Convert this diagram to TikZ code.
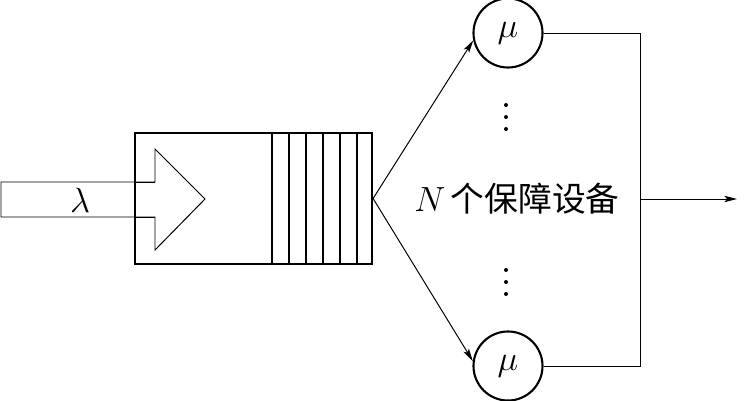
\documentclass[tikz,border=0pt]{standalone}
\usepackage{fontspec}
\newfontfamily\cjk{Noto Sans CJK SC}
\usetikzlibrary{arrows.meta}
\begin{document}
\begin{tikzpicture}[
  x=0.025cm,y=-0.025cm,
  frame/.style={line width=1.5pt},
  thin/.style={line width=0.7pt},
  flow/.style={-{Stealth[length=9pt,width=4.5pt,inset=2pt]},line width=0.7pt},
  server/.style={circle,draw,line width=1.5pt,inner sep=0pt,minimum size=1.725cm},
  mathlabel/.style={font=\fontsize{25}{30}\selectfont},
  cnlabel/.style={font=\fontsize{24}{28}\selectfont}
]
  \useasboundingbox (0,0) rectangle (744,401);

  % incoming stream
  \draw[thin,fill=white] (1,182) -- (155,182) -- (155,149) -- (205,199)
    -- (155,250) -- (155,217) -- (1,217) -- cycle;
  \node[mathlabel] (lambda) at (80,200) {$\lambda$};

  % waiting line
  \node[draw,frame,inner sep=0pt,minimum width=5.925cm,minimum height=3.275cm]
    (queue) at (253.5,198.5) {};
  \draw[thin] (135,182) -- (155,182);
  \draw[thin] (135,217) -- (155,217);
  \foreach \x in {272,289,306,323,340,357}{
    \draw[frame] (\x,133) -- (\x,264);
  }

  % servers
  \node[server,mathlabel] (srvtop) at (508,33) {$\mu$};
  \node[server,mathlabel] (srvbot) at (508,366) {$\mu$};
  \foreach \y in {105,117,129,270,282,294}{
    \fill (506,\y) circle (2);
  }
  \node[cnlabel] (devices) at (517,199) {$N$\,{\cjk 个保障设备}};

  \draw[flow] (queue.east) -- (srvtop.192);
  \draw[flow] (queue.east) -- (srvbot.172);

  % departures
  \coordinate (rail) at (640,199);
  \coordinate (out) at (737,199);
  \draw[thin] (srvtop.east) -- (srvtop.east -| rail) -- (srvbot.east -| rail) -- (srvbot.east);
  \draw[flow] (rail) -- (out);
\end{tikzpicture}
\end{document}
